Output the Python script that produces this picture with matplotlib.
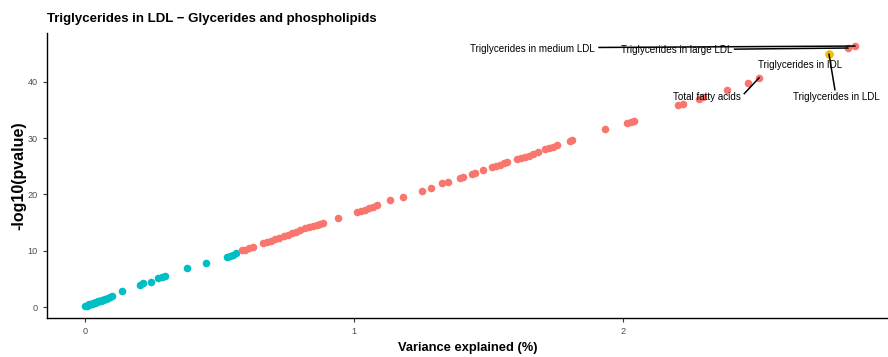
import matplotlib.pyplot as plt

plt.rcParams['font.family'] = ['Liberation Sans', 'DejaVu Sans']

# variance explained (%) and -log10(pvalue), non-significant group
x_low = [0.002, 0.006, 0.010, 0.013, 0.017, 0.021, 0.025, 0.029, 0.033, 0.037, 0.041,
         0.045, 0.050, 0.054, 0.058, 0.063, 0.068, 0.073, 0.079, 0.085, 0.093, 0.101,
         0.138, 0.204, 0.216, 0.245, 0.271, 0.286, 0.297, 0.379, 0.450,
         0.528, 0.539, 0.550, 0.561]
y_low = [0.15, 0.25, 0.35, 0.4, 0.5, 0.55, 0.6, 0.7, 0.75, 0.8, 0.9,
         0.95, 1.0, 1.1, 1.15, 1.25, 1.3, 1.4, 1.5, 1.6, 1.75, 1.9,
         2.85, 3.9, 4.25, 4.45, 5.15, 5.35, 5.5, 6.9, 7.8,
         8.9, 9.05, 9.25, 9.6]

# significant group
x_high = [0.584, 0.595, 0.610, 0.625, 0.662, 0.677, 0.691, 0.706, 0.721, 0.740, 0.755,
          0.770, 0.784, 0.799, 0.818, 0.833, 0.848, 0.862, 0.874, 0.885, 0.941,
          1.011, 1.026, 1.041, 1.056, 1.071, 1.086, 1.134, 1.182, 1.253, 1.286,
          1.327, 1.349, 1.394, 1.405, 1.439, 1.450, 1.480, 1.513, 1.528, 1.543,
          1.558, 1.569, 1.606, 1.621, 1.636, 1.651, 1.665, 1.684, 1.710, 1.725,
          1.740, 1.755, 1.803, 1.810, 1.933, 2.015, 2.030, 2.041, 2.204, 2.223,
          2.283, 2.297, 2.387, 2.465, 2.506, 2.836, 2.862]
y_high = [10.1, 10.2, 10.4, 10.65, 11.35, 11.55, 11.7, 12.1, 12.25, 12.6, 12.8,
          13.15, 13.3, 13.7, 14.0, 14.2, 14.4, 14.55, 14.75, 14.9, 15.8,
          16.9, 17.05, 17.25, 17.5, 17.75, 18.1, 19.0, 19.5, 20.6, 21.15,
          22.0, 22.2, 22.9, 23.1, 23.6, 23.8, 24.3, 24.9, 25.0, 25.3,
          25.6, 25.75, 26.3, 26.45, 26.65, 26.8, 27.2, 27.55, 28.05, 28.25,
          28.5, 28.8, 29.5, 29.6, 31.6, 32.7, 32.85, 33.05, 35.9, 36.05,
          36.95, 37.3, 38.5, 39.8, 40.7, 46.0, 46.35]

# highlighted trait
x_focus = [2.766]
y_focus = [44.9]

# labels: text, point, text position
labels = ['Triglycerides in medium LDL', 'Triglycerides in large LDL',
          'Triglycerides in IDL', 'Triglycerides in LDL', 'Total fatty acids']
label_pts = [(2.862, 46.35), (2.836, 46.0), (2.766, 44.9), (2.766, 44.9), (2.506, 40.7)]
label_pos = [(1.665, 45.9), (2.201, 45.7), (2.658, 43.0), (2.795, 37.3), (2.312, 37.3)]
label_ends = [(1.911, 46.1), (2.415, 45.8), None, (2.788, 38.6), (2.451, 37.9)]

fig = plt.figure(figsize=(8.88, 3.57), dpi=100)
ax = fig.add_axes([0.0529, 0.1092, 0.947, 0.7984])

ax.scatter(x_low, y_low, s=30, color='#00BFC4', linewidths=0, zorder=2)
ax.scatter(x_high, y_high, s=30, color='#F8766D', linewidths=0, zorder=2)
ax.scatter(x_focus, y_focus, s=30, color='#F5C400', edgecolors='#E0A800',
           linewidths=0.5, zorder=3)

for lab, pt, pos, end in zip(labels, label_pts, label_pos, label_ends):
    if end is not None:
        ax.plot([end[0], pt[0]], [end[1], pt[1]], color='black', lw=1.1, zorder=4)
    ax.text(pos[0], pos[1], lab, fontsize=7.1, ha='center', va='center', zorder=5)

ax.set_xlim(-0.141, 2.985)
ax.set_ylim(-1.95, 48.67)
ax.set_xticks([0, 1, 2])
ax.set_yticks([0, 10, 20, 30, 40])
ax.tick_params(labelsize=6.6, labelcolor='#4D4D4D', length=3, width=0.8, color='#333333')
for side in ['top', 'right']:
    ax.spines[side].set_visible(False)
for side in ['left', 'bottom']:
    ax.spines[side].set_linewidth(1.0)

ax.set_xlabel('Variance explained (%)', fontsize=9.3, fontweight='bold', labelpad=4)
ax.set_ylabel('-log10(pvalue)', fontsize=11.5, fontweight='bold', labelpad=1)
fig.text(0.0529, 0.947, 'Triglycerides in LDL \u2212 Glycerides and phospholipids',
         fontsize=9.5, fontweight='bold', ha='left', va='center')

fig.savefig('out.png', dpi=100)
